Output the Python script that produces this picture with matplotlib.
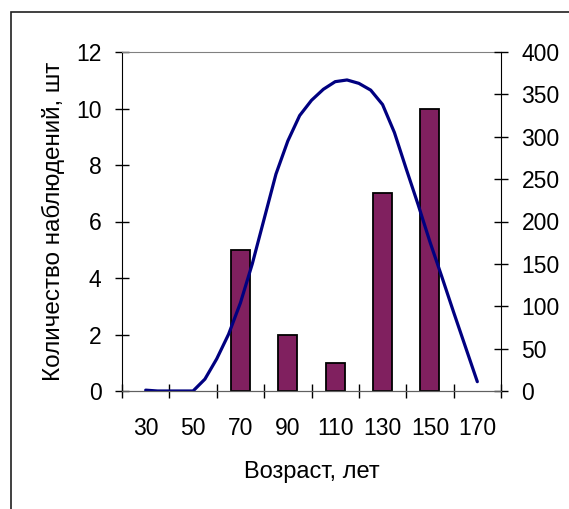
import matplotlib as mpl
mpl.use('Agg')

import matplotlib.pyplot as plt
from matplotlib.patches import Rectangle
import numpy as np

# histogram: number of observations per age class
age_classes = [30, 50, 70, 90, 110, 130, 150, 170]
counts = [0, 0, 5, 2, 1, 7, 10, 0]

curve_age = [30, 35, 40, 45, 50, 55, 60, 65, 70, 75, 80, 85, 90, 95, 100,
             105, 110, 115, 120, 125, 130, 135, 140, 145, 150, 155, 160, 165, 170]
curve_val = [1, 0, 0, 0, 0, 14, 38, 67, 104, 150, 203, 256, 295, 325, 343,
             356, 365, 367, 363, 355, 338, 305, 262, 220, 176, 135, 93, 52, 11]

left_ticks = [0, 2, 4, 6, 8, 10, 12]
right_ticks = [0, 50, 100, 150, 200, 250, 300, 350, 400]


def main():
    plt.rcParams['font.family'] = ['Liberation Sans', 'DejaVu Sans']
    plt.rcParams['font.size'] = 16.5

    W, H = 569, 509
    fig = plt.figure(figsize=(W / 100, H / 100), dpi=100)
    ax = fig.add_axes([122 / W, 1 - 391 / H, (501 - 122) / W, (391 - 52) / H])

    pos = np.arange(len(age_classes))
    # empty classes get no outline, as in the original
    edge_w = [1.3 if c > 0 else 0 for c in counts]
    ax.bar(pos, counts, width=0.4, color='#80205f', edgecolor='black', linewidth=edge_w, zorder=2)
    ax.set_xlim(-0.5, len(age_classes) - 0.5)
    ax.set_ylim(0, 12)
    ax.set_yticks(left_ticks)
    ax.set_xticks(pos)
    ax.set_xticklabels([str(a) for a in age_classes])
    ax.set_xticks(np.arange(len(age_classes) + 1) - 0.5, minor=True)
    ax.tick_params(axis='x', which='major', length=0, pad=19)
    ax.tick_params(axis='x', which='minor', direction='inout', length=9.5, width=1)
    ax.tick_params(axis='y', direction='inout', length=9.5, width=1, pad=10)

    ax.spines['left'].set_color('black')
    ax.spines['top'].set_color('#808080')
    ax.spines['bottom'].set_color('#606060')
    ax.spines['right'].set_visible(False)

    ax.set_ylabel('Количество наблюдений, шт', labelpad=8, fontsize=17.5)
    ax.set_xlabel('Возраст, лет', labelpad=15, fontsize=17)

    ax2 = ax.twinx()
    xs = [(a - age_classes[0]) / 20 for a in curve_age]
    ax2.plot(xs, curve_val, color='#000080', linewidth=2.3, zorder=1, solid_capstyle='round')
    ax2.set_ylim(0, 400)
    ax2.set_yticks(right_ticks)
    ax2.tick_params(axis='y', direction='inout', length=9.5, width=1, pad=10)
    ax2.spines['right'].set_color('black')
    ax2.spines['bottom'].set_color('#606060')
    ax2.spines['bottom'].set_zorder(3)
    ax2.spines['top'].set_visible(False)
    ax2.spines['left'].set_visible(False)

    # outer chart frame, running off the right and bottom edges
    fig.add_artist(Rectangle((10.5 / W, -0.1), 1.0, 1 - 12 / H + 0.1,
                             transform=fig.transFigure, fill=False,
                             edgecolor='#202020', linewidth=1.2))

    fig.savefig('out.png', dpi=100)


if __name__ == '__main__':
    main()
